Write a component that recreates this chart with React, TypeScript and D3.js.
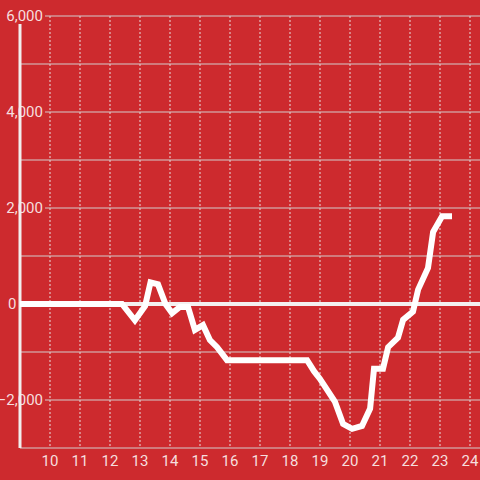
import React from "react";
import * as d3 from "d3";

const hours = [9, 12.4, 12.83, 13.17, 13.35, 13.6, 13.85, 14.07, 14.33, 14.6, 14.83, 15.1, 15.33, 15.57, 15.9, 18.57, 18.8, 19.0, 19.25, 19.5, 19.77, 20.07, 20.4, 20.67, 20.8, 21.1, 21.27, 21.6, 21.77, 22.1, 22.27, 22.6, 22.77, 23.07, 23.4];
const values = [0, 0, -340, -40, 450, 410, 0, -190, -60, -60, -540, -440, -750, -900, -1170, -1170, -1400, -1560, -1800, -2040, -2500, -2600, -2540, -2180, -1350, -1350, -900, -700, -330, -160, 300, 750, 1500, 1830, 1830];
const yTicks = [-2000, 0, 2000, 4000, 6000];
const yGrid = [-3000, -2000, -1000, 1000, 2000, 3000, 4000, 5000, 6000];
const xTicks = [10, 11, 12, 13, 14, 15, 16, 17, 18, 19, 20, 21, 22, 23, 24];

const W = 480, H = 480;
const BG = "#cd2a2e";
const TXT = "#f6dede";

export default function App() {
  const x = d3.scaleLinear().domain([9, 24]).range([20, 470]);
  const y = d3.scaleLinear().domain([-3000, 6000]).range([448, 16]);
  const line = d3.line<number>().x((_, i) => x(hours[i])).y((d) => y(d));
  const fmt = d3.format(",");
  return (
    <svg width={W} height={H} style={{ position: "fixed", left: 0, top: 0, background: BG }} fontFamily="Roboto, sans-serif">
      <rect x={0} y={0} width={W} height={H} fill={BG} />
      {xTicks.map((t) => (
        <line key={"vx" + t} x1={x(t)} x2={x(t)} y1={y(6000)} y2={y(-3000)} stroke="#e8dede" strokeWidth={1} strokeDasharray="2,2" />
      ))}
      {yGrid.map((t) => (
        <line key={"gy" + t} x1={20} x2={W} y1={y(t)} y2={y(t)} stroke="#d4cccc" strokeWidth={1.2} />
      ))}
      {yTicks.map((t) => (
        <g key={"yt" + t}>
          <rect x={0} y={y(t) - 8} width={t === 0 ? 18 : 45} height={16} fill={BG} />
          <text x={t === 0 ? 8 : 43} y={y(t)} dy="0.35em" textAnchor={t === 0 ? "start" : "end"} fontSize={15} fill={TXT}>
            {fmt(t)}
          </text>
        </g>
      ))}
      <line x1={20} x2={20} y1={24} y2={448} stroke="#f2eeee" strokeWidth={3} />
      <line x1={20} x2={W} y1={y(0)} y2={y(0)} stroke="#f4f0f0" strokeWidth={4} />
      {xTicks.map((t) => (
        <text key={"xt" + t} x={x(t)} y={461} dy="0.35em" textAnchor="middle" fontSize={15} fill={TXT}>
          {t}
        </text>
      ))}
      <path d={line(values) || ""} fill="none" stroke="#ffffff" strokeWidth={6} />
    </svg>
  );
}
